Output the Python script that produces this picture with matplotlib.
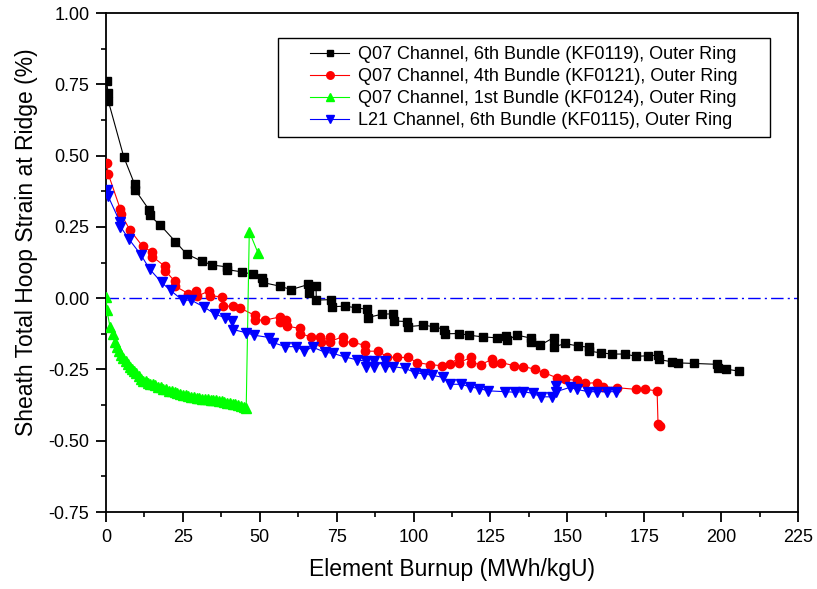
import numpy as np
import matplotlib
matplotlib.use("Agg")
import matplotlib.pyplot as plt
from matplotlib.ticker import MultipleLocator, FormatStrFormatter
from matplotlib.patches import Rectangle

plt.rcParams['font.family'] = ['Liberation Sans', 'DejaVu Sans']

# ---------------- data ----------------
kf0119_x = [0.2, 0.7, 0.8, 5.8, 9.3, 9.5, 14.0, 14.2, 17.7, 22.6, 26.2, 31.1, 34.6,
            39.2, 39.4, 44.3, 47.9, 50.7, 50.9, 56.6, 60.2, 65.8, 66.0, 68.3, 68.4,
            73.3, 73.5, 77.8, 81.4, 85.0, 85.1, 89.8, 93.3, 93.5, 97.9, 98.1, 103.2,
            106.7, 110.0, 110.2, 114.8, 118.1, 122.7, 127.0, 130.1, 130.3, 133.8,
            138.1, 138.3, 141.2, 145.6, 145.8, 149.2, 153.6, 157.0, 157.2, 161.1,
            164.6, 168.9, 172.2, 176.3, 179.5, 179.7, 183.9, 186.0, 191.2, 198.7,
            198.9, 201.7, 205.9]
kf0119_y = [0.76, 0.72, 0.69, 0.495, 0.40, 0.38, 0.31, 0.29, 0.256, 0.198, 0.155, 0.13,
            0.116, 0.11, 0.10, 0.092, 0.083, 0.072, 0.055, 0.042, 0.03, 0.048, 0.018,
            0.043, -0.007, -0.005, -0.03, -0.028, -0.034, -0.039, -0.068, -0.056,
            -0.055, -0.08, -0.082, -0.10, -0.095, -0.10, -0.11, -0.125, -0.124, -0.13,
            -0.136, -0.139, -0.132, -0.146, -0.13, -0.14, -0.155, -0.165, -0.138,
            -0.171, -0.159, -0.168, -0.172, -0.186, -0.192, -0.196, -0.196, -0.204,
            -0.202, -0.2, -0.215, -0.223, -0.227, -0.229, -0.232, -0.246, -0.249,
            -0.256]

kf0121_x = [0.2, 0.7, 4.7, 4.9, 7.8, 11.9, 14.9, 15.1, 19.1, 19.3, 22.3, 22.5, 26.8,
            29.4, 29.6, 33.5, 33.7, 37.8, 38.0, 41.2, 43.7, 48.3, 48.5, 51.7, 56.5,
            56.7, 58.6, 58.8, 63.0, 63.2, 66.8, 69.7, 69.9, 72.7, 72.9, 77.0, 77.2,
            80.2, 84.1, 84.3, 88.5, 91.5, 94.5, 98.3, 101.2, 105.3, 109.3, 112.0,
            114.7, 114.9, 118.6, 118.8, 121.8, 125.5, 125.7, 128.6, 132.7, 135.7,
            139.5, 142.4, 146.5, 149.4, 153.0, 155.9, 159.7, 161.7, 166.2, 172.5,
            175.4, 179.2, 179.5, 180.2]
kf0121_y = [0.473, 0.437, 0.311, 0.295, 0.239, 0.182, 0.162, 0.146, 0.112, 0.096, 0.06,
            0.042, 0.016, 0.025, 0.007, 0.025, 0.008, 0.005, -0.028, -0.028, -0.035,
            -0.06, -0.077, -0.077, -0.066, -0.083, -0.077, -0.098, -0.106, -0.124,
            -0.137, -0.135, -0.152, -0.135, -0.152, -0.135, -0.152, -0.155, -0.165,
            -0.186, -0.186, -0.206, -0.208, -0.208, -0.226, -0.233, -0.237, -0.231,
            -0.208, -0.226, -0.208, -0.226, -0.233, -0.215, -0.229, -0.226, -0.237,
            -0.24, -0.249, -0.261, -0.279, -0.285, -0.288, -0.299, -0.296, -0.311,
            -0.314, -0.32, -0.32, -0.325, -0.44, -0.449]

kf0124_x = [0.1, 0.3, 1.3, 2.2, 2.9, 3.6, 4.3, 5.0, 5.7, 6.4, 7.1, 7.8, 8.5, 9.2,
            9.9, 10.6, 11.3, 12.1, 12.9, 13.6, 14.3, 15.2, 16.1, 17.0, 17.8, 18.7,
            19.6, 20.5, 21.4, 22.3, 23.2, 24.1, 25.0, 25.9, 26.8, 27.7, 28.6, 29.5,
            30.4, 31.3, 32.2, 33.1, 34.0, 34.9, 35.8, 36.7, 37.6, 38.5, 39.4, 40.3,
            41.2, 42.1, 43.0, 43.9, 44.8, 45.6, 46.6, 49.5]
kf0124_y = [0.005, -0.042, -0.10, -0.124, -0.155, -0.172, -0.186, -0.198, -0.21,
            -0.222, -0.232, -0.24, -0.25, -0.256, -0.264, -0.272, -0.282, -0.29,
            -0.292, -0.298, -0.30, -0.302, -0.306, -0.31, -0.313, -0.318, -0.32,
            -0.324, -0.327, -0.33, -0.333, -0.336, -0.34, -0.341, -0.343, -0.345,
            -0.347, -0.35, -0.351, -0.352, -0.353, -0.354, -0.356, -0.357, -0.358,
            -0.36, -0.362, -0.364, -0.366, -0.368, -0.37, -0.372, -0.375, -0.377,
            -0.38, -0.384, 0.233, 0.157]

kf0115_x = [0.2, 0.7, 4.5, 4.7, 7.4, 11.3, 14.2, 18.1, 21.0, 24.9, 27.7, 31.9, 35.6,
            38.7, 41.1, 41.3, 45.5, 48.2, 53.1, 54.4, 58.3, 61.7, 64.5, 67.2, 71.1,
            73.9, 77.6, 81.5, 84.4, 84.6, 87.0, 87.2, 90.6, 90.8, 93.4, 97.2, 100.5,
            103.4, 105.9, 109.6, 112.0, 115.6, 118.3, 121.4, 124.3, 129.7, 133.0,
            135.7, 138.9, 141.4, 144.9, 146.2, 146.4, 150.8, 153.2, 156.8, 159.5,
            163.0, 165.7]
kf0115_y = [0.379, 0.358, 0.268, 0.251, 0.208, 0.153, 0.102, 0.055, 0.027, -0.007,
            -0.007, -0.031, -0.057, -0.068, -0.081, -0.11, -0.121, -0.13, -0.138,
            -0.156, -0.17, -0.17, -0.185, -0.172, -0.189, -0.194, -0.206, -0.216,
            -0.221, -0.24, -0.22, -0.24, -0.221, -0.24, -0.24, -0.246, -0.261, -0.266,
            -0.27, -0.278, -0.302, -0.302, -0.311, -0.317, -0.325, -0.328, -0.33,
            -0.328, -0.334, -0.346, -0.346, -0.309, -0.328, -0.313, -0.32, -0.328,
            -0.328, -0.328, -0.328]

labels = ["Q07 Channel, 6th Bundle (KF0119), Outer Ring",
          "Q07 Channel, 4th Bundle (KF0121), Outer Ring",
          "Q07 Channel, 1st Bundle (KF0124), Outer Ring",
          "L21 Channel, 6th Bundle (KF0115), Outer Ring"]
# ==============================================================


def main():
    fig = plt.figure(figsize=(8.17, 5.89), dpi=100)
    ax = fig.add_axes([0.1297, 0.1307, 0.8470, 0.8472])

    series = [
        (kf0119_x, kf0119_y, "#000000", "s", 5.5),
        (kf0121_x, kf0121_y, "#ff0000", "o", 6.0),
        (kf0124_x, kf0124_y, "#00ff00", "^", 6.5),
        (kf0115_x, kf0115_y, "#0000ff", "v", 6.5),
    ]
    for (x, y, c, m, ms), lab in zip(series, labels):
        ax.plot(x, y, color=c, lw=0.8, marker=m, ms=ms, mec=c, mfc=c,
                label=lab, zorder=3)

    # zero reference line
    ax.axhline(0, color="#0000ff", lw=1.0, ls=(0, (9, 3, 1.5, 3)), zorder=2)

    ax.set_xlim(0, 225)
    ax.set_ylim(-0.75, 1.0)
    ax.xaxis.set_major_locator(MultipleLocator(25))
    ax.xaxis.set_minor_locator(MultipleLocator(12.5))
    ax.yaxis.set_major_locator(MultipleLocator(0.25))
    ax.yaxis.set_minor_locator(MultipleLocator(0.125))
    ax.yaxis.set_major_formatter(FormatStrFormatter("%.2f"))
    ax.tick_params(which="major", direction="out", length=7, width=1.3,
                   labelsize=13, pad=5)
    ax.tick_params(which="minor", direction="out", length=3.5, width=1.2)
    for sp in ax.spines.values():
        sp.set_linewidth(1.3)

    ax.set_xlabel("Element Burnup (MWh/kgU)", fontsize=16.5)
    ax.set_ylabel("Sheath Total Hoop Strain at Ridge (%)", fontsize=16.5)
    ax.xaxis.set_label_coords(0.5, -0.093)
    ax.yaxis.set_label_coords(-0.098, 0.54)

    # legend box drawn separately so the padding can match the reference
    ax.add_patch(Rectangle((0.2486, 0.7515), 0.7109, 0.1985, transform=ax.transAxes,
                           fill=True, facecolor="white", edgecolor="black",
                           lw=1.0, zorder=4))
    leg = ax.legend(loc="center", bbox_to_anchor=(0.604, 0.8507), fontsize=13,
                    frameon=False, handlelength=2.15, handletextpad=0.5,
                    borderpad=0.0, labelspacing=0.27, markerscale=0.9)
    leg.set_zorder(5)

    fig.savefig("out.png", dpi=100)


if __name__ == "__main__":
    main()
